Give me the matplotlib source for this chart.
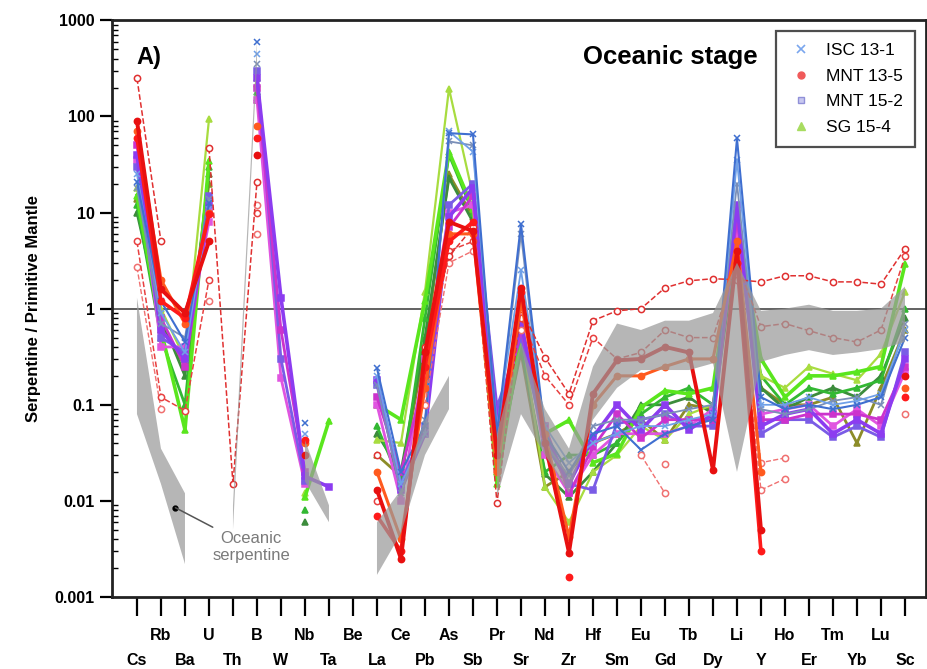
import numpy as np
import matplotlib
matplotlib.use("Agg")
import matplotlib.pyplot as plt
from matplotlib.lines import Line2D
from matplotlib.ticker import FixedLocator, FixedFormatter, LogLocator, NullFormatter

plt.rcParams['font.family'] = ['Liberation Sans', 'DejaVu Sans']

N = np.nan

elements = ['Cs', 'Rb', 'Ba', 'U', 'Th', 'B', 'W', 'Nb', 'Ta', 'Be', 'La', 'Ce', 'Pb',
            'As', 'Sb', 'Pr', 'Sr', 'Nd', 'Zr', 'Hf', 'Sm', 'Eu', 'Gd', 'Tb', 'Dy',
            'Li', 'Y', 'Ho', 'Er', 'Tm', 'Yb', 'Lu', 'Sc']

# ISC 13-1
isc_1 = [21, 1.2, 0.45, 12.5, N, 600, N, 0.064, N, N, 0.24, 0.02, 0.06, 67, 65, 0.05, 7.6, 0.05, 0.02,
         0.05, 0.06, 0.034, 0.05, 0.06, 0.07, 59, 0.12, 0.09, 0.1, 0.09, 0.1, 0.12, 0.5]
isc_2 = [25, 0.9, 0.35, 11, N, 450, N, 0.05, N, N, 0.2, 0.015, 0.05, 70, 43, 0.06, 2.5, 0.06, 0.025,
         0.04, 0.05, 0.06, 0.06, 0.07, 0.08, 35, 0.1, 0.1, 0.12, 0.1, 0.11, 0.13, 0.6]
isc_3 = [18, 0.7, 0.5, 14, N, 350, N, N, N, N, 0.16, 0.012, 0.07, 55, 50, 0.045, 6, 0.04, 0.018,
         0.06, 0.07, 0.07, 0.08, 0.09, 0.1, 20, 0.09, 0.08, 0.09, 0.11, 0.12, 0.1, 0.7]

# MNT 13-5
mnt135_1 = [90, 1.6, 0.9, 5, N, 40, N, 0.03, N, N, 0.013, 0.0025, 0.35, 8, 6.4, 0.03, 1.65, 0.04, 0.0029,
            0.13, 0.29, 0.3, 0.4, 0.35, 0.021, 4, 0.005, N, N, N, N, N, 0.2]
mnt135_2 = [60, 1.2, 0.8, 9.6, N, 60, N, 0.043, N, N, 0.007, 0.003, 0.25, 5, 8, N, 1.5, N, 0.0016,
            N, N, N, N, N, N, 3, 0.003, N, N, N, N, N, 0.12]
mnt135_3 = [70, 2, 0.7, 10, N, 80, N, 0.04, N, N, 0.02, 0.004, 0.15, 6, 6, 0.02, 1.2, 0.05, 0.0042,
            0.1, 0.2, 0.2, 0.25, 0.3, 0.3, 5, 0.02, N, N, N, N, N, 0.15]
mnt135_4 = [250, 5, N, 47, 0.015, 21, N, N, N, N, 0.03, N, 0.4, 3.5, 7, 0.0095, 1, 0.31, 0.13,
            0.75, 0.95, 1.0, 1.65, 1.95, 2.05, 2.0, 1.9, 2.2, 2.2, 1.9, 1.9, 1.8, 4.2]
mnt135_5 = [5, 0.12, 0.087, 2, N, 10, N, N, N, N, 0.01, N, 0.2, 4, 5, N, 0.8, 0.2, 0.1,
            0.5, 0.3, 0.35, 0.6, 0.5, 0.5, 3, 0.65, 0.7, 0.59, 0.5, 0.45, 0.6, 3.5]
mnt135_6 = [2.7, 0.09, N, 1.2, N, 6, N, N, N, N, N, N, 0.1, 3, 4, N, 0.6, N, N,
            N, N, 0.03, 0.012, N, N, 2.5, 0.013, 0.017, N, N, N, N, 0.08]
mnt135_7 = [N, N, N, N, N, 12, N, N, N, N, N, N, N, N, N, N, N, N, N,
            N, N, N, 0.024, N, N, 2.5, 0.025, 0.028, N, N, N, N, N]

# MNT 15-2
mnt152_1 = [40, 0.6, 0.3, 12, N, 250, 1.3, 0.018, 0.014, N, 0.18, 0.013, 0.05, 9, 18, 0.07, 0.7, 0.05, 0.015,
            0.046, 0.1, 0.055, 0.1, 0.055, 0.08, 12, 0.06, 0.08, 0.09, 0.05, 0.07, 0.05, 0.3]
mnt152_2 = [50, 0.8, 0.25, 10, N, 200, 0.6, 0.02, N, N, 0.12, 0.02, 0.2, 7, 15, 0.05, 0.6, 0.06, 0.012,
            0.036, 0.08, 0.045, 0.07, 0.07, 0.07, 9, 0.07, 0.07, 0.08, 0.08, 0.08, 0.07, 0.25]
mnt152_3 = [30, 0.5, 0.35, 15, N, 300, 0.3, 0.016, N, N, 0.16, 0.015, 0.06, 12, 20, 0.095, 0.5, 0.04, 0.015,
            0.013, 0.064, 0.07, 0.08, 0.06, 0.06, 10, 0.05, 0.07, 0.07, 0.046, 0.06, 0.046, 0.35]
mnt152_4 = [35, 0.4, 0.4, 8, N, 150, 0.19, 0.015, N, N, 0.1, 0.01, 0.3, 10, 12, 0.043, 0.8, 0.03, 0.012,
            0.03, 0.05, 0.05, 0.05, 0.06, 0.09, 7, 0.08, 0.09, 0.1, 0.06, 0.09, 0.06, 0.22]

# SG 15-4
sg154_1 = [15, 0.6, 0.055, 34, N, 250, N, 0.011, 0.068, N, 0.1, 0.07, 1.2, 43, 11, 0.015, 0.55, 0.05, 0.069,
           0.025, 0.031, 0.094, 0.14, 0.13, 0.15, 8, 0.3, 0.12, 0.2, 0.2, 0.22, 0.25, 2.9]
sg154_2 = [12, 0.5, 0.1, 30, N, 180, N, 0.008, N, N, 0.06, 0.015, 0.8, 40, 10, 0.02, 0.4, 0.02, 0.03,
           0.03, 0.04, 0.08, 0.12, 0.15, 0.1, 6, 0.2, 0.1, 0.15, 0.13, 0.15, 0.18, 1.0]
sg154_3 = [10, 0.8, 0.2, 25, N, 155, N, 0.006, N, N, 0.05, 0.02, 0.5, 23, 8, 0.03, 0.4, 0.019, 0.011,
           0.02, 0.04, 0.1, 0.1, 0.12, 0.08, 5, 0.15, 0.09, 0.12, 0.15, 0.12, 0.2, 0.8]
sg154_4 = [18, 1.0, 0.3, 93, N, 220, N, 0.012, N, N, 0.043, 0.04, 1.5, 195, 15, 0.02, 0.6, 0.014, 0.006,
           0.02, 0.03, 0.06, 0.043, 0.08, 0.1, 10, 0.2, 0.15, 0.25, 0.21, 0.18, 0.34, 1.5]
sg154_5 = [14, 0.7, 0.25, 20, N, 150, N, 0.02, N, N, 0.03, 0.018, 0.4, 25, 9, 0.025, 0.35, 0.014, 0.02,
           0.04, 0.05, 0.07, 0.043, 0.1, 0.09, 8, 0.15, 0.1, 0.1, 0.12, 0.04, 0.15, 0.6]

# oceanic serpentine field (lower / upper bound)
serp_lo = [0.08, 0.015, 0.0022, N, 0.005, 350, N, 0.016, 0.006, N, 0.0017, 0.0046, 0.03, 0.09, N,
           0.011, 0.08, 0.03, 0.012, 0.07, 0.15, 0.23, 0.23, 0.23, 0.27, 0.02, 0.28, 0.33, 0.37,
           0.33, 0.35, 0.38, 0.45]
serp_hi = [1.3, 0.035, 0.012, N, 0.009, 600, N, 0.043, 0.009, N, 0.006, 0.013, 0.07, 0.2, N,
           0.05, 0.45, 0.09, 0.035, 0.25, 0.7, 0.6, 0.75, 0.75, 0.9, 3, 0.95, 1.0, 1.1,
           0.95, 0.95, 1.0, 1.7]

x = np.arange(len(elements))

fig = plt.figure(figsize=(9.28, 6.69), dpi=100)
ax = fig.add_axes([0.1207, 0.1076, 0.877, 0.862])

def draw(vals, color, marker, dashed=False, open_marker=False, lw=2.0, ms=4.5):
    ax.plot(x, vals, color=color, lw=lw, ls='--' if dashed else '-',
            marker=marker, ms=ms, mew=1.1,
            mfc='white' if open_marker else color, mec=color, zorder=3)

# SG 15-4
draw(sg154_5, '#8c8c28', '^')
draw(sg154_3, '#3c8c3c', '^')
draw(sg154_2, '#33b833', '^')
draw(sg154_4, '#a8dc40', '^', lw=1.6)
draw(sg154_1, '#5ae61e', '^', lw=2.6)
# MNT 15-2
draw(mnt152_4, '#e055e0', 's')
draw(mnt152_3, '#7a5ce6', 's')
draw(mnt152_2, '#cc33cc', 's')
draw(mnt152_1, '#8c3cf0', 's', lw=2.6)
# ISC 13-1
draw(isc_3, '#7a8fb8', 'x', lw=1.3)
draw(isc_2, '#6fa0e8', 'x', lw=1.3)
draw(isc_1, '#3f6fd0', 'x', lw=1.5)
# MNT 13-5
draw(mnt135_7, '#f07070', 'o', dashed=True, open_marker=True, lw=1.0)
draw(mnt135_6, '#f07070', 'o', dashed=True, open_marker=True, lw=1.0)
draw(mnt135_5, '#e84040', 'o', dashed=True, open_marker=True, lw=1.1)
draw(mnt135_4, '#e03030', 'o', dashed=True, open_marker=True, lw=1.1)
draw(mnt135_3, '#ff5a1e', 'o', lw=2.2)
draw(mnt135_2, '#ff1a1a', 'o', lw=2.6)
draw(mnt135_1, '#e81010', 'o', lw=2.8)

ax.fill_between(x, serp_lo, serp_hi, color='#9a9a9a', alpha=0.72, lw=0, zorder=4)

ax.axhline(1, color='#555555', lw=1.3, zorder=2)

# field label
ax.plot(1.6, 0.0085, 'o', color='black', ms=3.5, zorder=6)
ax.annotate('Oceanic\nserpentine', xy=(1.6, 0.0085), xytext=(4.75, 0.0033),
            ha='center', va='center', fontsize=12, color='#7a7a7a', linespacing=1.15,
            arrowprops=dict(arrowstyle='-', color='#555555', lw=1.1, shrinkA=2, shrinkB=0),
            zorder=6)

ax.set_yscale('log')
ax.set_ylim(1e-3, 1e3)
ax.set_xlim(-1.04, 32.87)

yt = [1e-3, 1e-2, 1e-1, 1, 10, 100, 1000]
ax.yaxis.set_major_locator(FixedLocator(yt))
ax.yaxis.set_major_formatter(FixedFormatter(['0.001', '0.01', '0.1', '1', '10', '100', '1000']))
ax.yaxis.set_minor_locator(LogLocator(base=10, subs=np.arange(2, 10), numticks=20))
ax.yaxis.set_minor_formatter(NullFormatter())
ax.tick_params(axis='y', which='major', length=9, width=1.6, direction='out', labelsize=11.5)
ax.tick_params(axis='y', which='minor', length=4, width=1.0, direction='in')
for lab in ax.get_yticklabels():
    lab.set_fontweight('bold')

ax.set_xticks(x)
ax.set_xticklabels(elements, fontsize=11.5, fontweight='bold')
ax.tick_params(axis='x', length=14, width=1.6, direction='out')
for i, tick in enumerate(ax.xaxis.get_major_ticks()):
    tick.set_pad(26 if i % 2 == 0 else 8)

for sp in ax.spines.values():
    sp.set_linewidth(2)
    sp.set_color('#222222')

ax.set_ylabel('Serpentine / Primitive Mantle', fontsize=12, fontweight='bold', labelpad=10)

ax.text(0.03, 0.955, 'A)', transform=ax.transAxes, fontsize=17, fontweight='bold', va='top')
ax.text(0.793, 0.958, 'Oceanic stage', transform=ax.transAxes, fontsize=18.5,
        fontweight='bold', va='top', ha='right')

handles = [
    Line2D([], [], ls='none', marker='x', color='#7aa6ee', ms=6, mew=1.2, label='ISC 13-1'),
    Line2D([], [], ls='none', marker='o', color='#f05a5a', ms=5, label='MNT 13-5'),
    Line2D([], [], ls='none', marker='s', color='#9090d8', ms=5, mfc='#c8c8f0', label='MNT 15-2'),
    Line2D([], [], ls='none', marker='^', color='#a8dc60', ms=6, label='SG 15-4'),
]
leg = ax.legend(handles=handles, loc='upper right', fontsize=12.5, frameon=True, fancybox=False,
                edgecolor='#222222', borderaxespad=0.6, handletextpad=0.7, labelspacing=0.6,
                borderpad=0.7, handlelength=1.5)
leg.get_frame().set_linewidth(1.6)
leg.set_zorder(10)

fig.savefig('out.png', dpi=100)
